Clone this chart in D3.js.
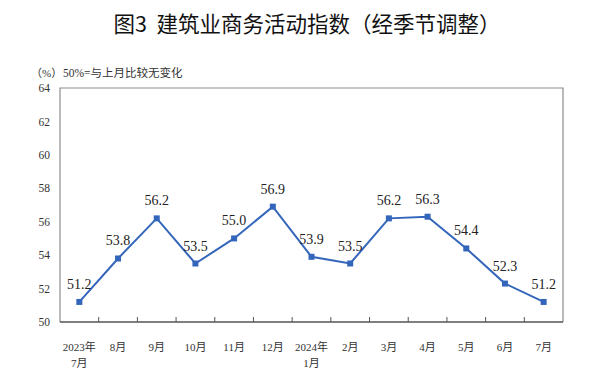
<!DOCTYPE html>
<html>
<head>
<meta charset="utf-8">
<script src="https://cdn.jsdelivr.net/npm/d3@7"></script>
<style>
  body { margin: 0; background: #fff; }
  svg { display: block; }
</style>
</head>
<body>
<div id="chart"></div>
<script>
// months along the x axis (two-line labels split by \n)
const months = ['2023年\n7月', '8月', '9月', '10月', '11月', '12月', '2024年\n1月', '2月', '3月', '4月', '5月', '6月', '7月'];
const values = [51.2, 53.8, 56.2, 53.5, 55.0, 56.9, 53.9, 53.5, 56.2, 56.3, 54.4, 52.3, 51.2];
const yTicks = [50, 52, 54, 56, 58, 60, 62, 64];

const width = 600, height = 378;
const margin = {top: 88, right: 37, bottom: 56, left: 60};
const innerW = width - margin.left - margin.right;
const innerH = height - margin.top - margin.bottom;

const serif = '"Liberation Serif", "Noto Sans CJK SC", serif';
const blue = '#3366bb';

const svg = d3.select('#chart').append('svg')
    .attr('width', width)
    .attr('height', height);

// title
svg.append('text')
    .attr('x', 307)
    .attr('y', 32)
    .attr('text-anchor', 'middle')
    .attr('font-family', '"Noto Sans CJK SC", sans-serif')
    .attr('font-size', 21.5)
    .attr('font-weight', 'normal')
    .attr('fill', '#111')
    .attr('xml:space', 'preserve')
    .text('图3  建筑业商务活动指数（经季节调整）');

// unit note
svg.append('text')
    .attr('x', 31)
    .attr('y', 77)
    .attr('font-family', serif)
    .attr('font-size', 11)
    .attr('fill', '#333')
    .text('（%）');
svg.append('text')
    .attr('x', 63)
    .attr('y', 77)
    .attr('font-family', serif)
    .attr('font-size', 11.5)
    .attr('fill', '#333')
    .text('50%=与上月比较无变化');

const chart = svg.append('g')
    .attr('transform', `translate(${margin.left},${margin.top})`);

const x = d3.scaleBand()
    .domain(months)
    .range([0, innerW])
    .padding(0);

const y = d3.scaleLinear()
    .domain([50, 64])
    .range([innerH, 0]);

// frame: gray left, top, right
chart.append('path')
    .attr('d', `M0,${innerH}V0H${innerW}V${innerH}`)
    .attr('fill', 'none')
    .attr('stroke', '#8c8c8c')
    .attr('stroke-width', 1.2);

// y axis labels
const yAxis = d3.axisLeft(y)
    .tickValues(yTicks)
    .tickSize(0)
    .tickPadding(10);
const yAxisG = chart.append('g').call(yAxis);
yAxisG.select('.domain').remove();
yAxisG.selectAll('text')
    .attr('font-family', serif)
    .attr('font-size', 11.5)
    .attr('fill', '#333');

// x axis: ticks between bands, pointing up
const xAxisG = chart.append('g')
    .attr('transform', `translate(0,${innerH})`);
xAxisG.append('line')
    .attr('x1', 0).attr('x2', innerW)
    .attr('stroke', '#555')
    .attr('stroke-width', 1.5);
xAxisG.selectAll('.tick-mark')
    .data(months.slice(1))
    .join('line')
    .attr('class', 'tick-mark')
    .attr('x1', d => x(d)).attr('x2', d => x(d))
    .attr('y1', 0).attr('y2', -5)
    .attr('stroke', '#555');

const xLabels = xAxisG.selectAll('.xlab')
    .data(months)
    .join('text')
    .attr('class', 'xlab')
    .attr('text-anchor', 'middle')
    .attr('font-family', serif)
    .attr('font-size', 11)
    .attr('fill', '#333');
xLabels.each(function(d) {
  const t = d3.select(this);
  d.split('\n').forEach((s, i) => {
    t.append('tspan')
      .attr('x', x(d) + x.bandwidth() / 2)
      .attr('y', 29 + i * 16)
      .text(s);
  });
});

const data = months.map((m, i) => ({m, v: values[i]}));
const cx = d => x(d.m) + x.bandwidth() / 2;

// line
chart.append('path')
    .datum(data)
    .attr('fill', 'none')
    .attr('stroke', blue)
    .attr('stroke-width', 2)
    .attr('d', d3.line().x(cx).y(d => y(d.v)));

// square markers
chart.selectAll('.pt')
    .data(data)
    .join('rect')
    .attr('class', 'pt')
    .attr('x', d => cx(d) - 3)
    .attr('y', d => y(d.v) - 3)
    .attr('width', 6)
    .attr('height', 6)
    .attr('fill', blue);

// value labels
chart.selectAll('.val')
    .data(data)
    .join('text')
    .attr('class', 'val')
    .attr('x', cx)
    .attr('y', d => y(d.v) - 13)
    .attr('text-anchor', 'middle')
    .attr('font-family', serif)
    .attr('font-size', 14)
    .attr('fill', '#222')
    .text(d => d.v.toFixed(1));
</script>
</body>
</html>
